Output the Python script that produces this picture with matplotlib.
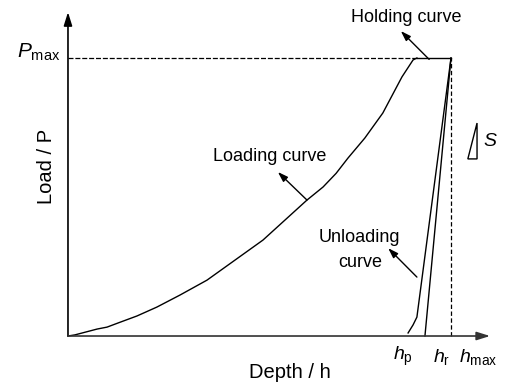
import numpy as np
import matplotlib.pyplot as plt
from matplotlib.patches import Polygon

plt.rcParams['font.family'] = ['Liberation Sans', 'DejaVu Sans']
plt.rcParams['mathtext.fontset'] = 'custom'
plt.rcParams['mathtext.rm'] = 'Liberation Sans'
plt.rcParams['mathtext.it'] = 'Liberation Sans:italic'

# normalised depth (h / hmax) and load (P / Pmax)
load_h = [0, 0.018, 0.076, 0.102, 0.131, 0.180, 0.232, 0.292, 0.363,
          0.509, 0.624, 0.666, 0.700, 0.731, 0.775, 0.822, 0.872, 0.901, 0.911]
load_p = [0, 0.004, 0.025, 0.032, 0.047, 0.072, 0.104, 0.147, 0.201,
          0.345, 0.489, 0.536, 0.585, 0.640, 0.712, 0.802, 0.932, 0.993, 1.0]
hold_h = [0.911, 1.0]
hold_p = [1.0, 1.0]
unload1_h = [1.0, 0.911, 0.901, 0.888]
unload1_p = [1.0, 0.068, 0.040, 0.011]
unload2_h = [1.0, 0.932]
unload2_p = [1.0, 0.0]
h_p, h_r, h_max = 0.888, 0.932, 1.0
p_max = 1.0

fig = plt.figure(figsize=(5.31, 3.91), dpi=100)
ax = fig.add_axes([0, 0, 1, 1])
ax.set_xlim(-0.1775, 1.2089)
ax.set_ylim(-0.1978, 1.2086)
ax.axis('off')

# axes with arrows
arrow = dict(arrowstyle='-|>,head_length=0.8,head_width=0.25', color='black', lw=1.2,
             shrinkA=0, shrinkB=0)
ax.annotate('', xy=(0, 1.165), xytext=(0, 0), arrowprops=arrow)
ax.annotate('', xy=(1.102, 0), xytext=(0, 0), arrowprops=dict(arrow, color='#333333'))

# reference lines
ax.plot([0, hold_h[0]], [p_max, p_max], color='black', lw=0.9, ls=(0, (4, 1.5)))
ax.plot([h_max, h_max], [0, p_max], color='black', lw=0.9, ls=(0, (3.5, 2)))

# curves
ax.plot(load_h, load_p, color='black', lw=1.0)
ax.plot(hold_h, hold_p, color='black', lw=1.0)
ax.plot(unload1_h, unload1_p, color='black', lw=1.0)
ax.plot(unload2_h, unload2_p, color='black', lw=1.0)

# annotations
small_arrow = dict(arrowstyle='-|>,head_length=0.6,head_width=0.2', color='black', lw=1.0,
                   shrinkA=0, shrinkB=0)
ax.annotate('', xy=(0.548, 0.590), xytext=(0.624, 0.489), arrowprops=small_arrow)
ax.text(0.527, 0.644, 'Loading curve', fontsize=13, ha='center', va='center')

ax.annotate('', xy=(0.869, 1.097), xytext=(0.943, 0.995), arrowprops=small_arrow)
ax.text(0.883, 1.145, 'Holding curve', fontsize=13, ha='center', va='center')

ax.annotate('', xy=(0.836, 0.316), xytext=(0.911, 0.212), arrowprops=small_arrow)
ax.text(0.762, 0.356, 'Unloading', fontsize=13, ha='center', va='center')
ax.text(0.762, 0.263, 'curve', fontsize=13, ha='center', va='center')

# stiffness triangle
tri = Polygon([[1.044, 0.637], [1.068, 0.637], [1.068, 0.766]], closed=True,
              fill=False, edgecolor='black', lw=1.0)
ax.add_patch(tri)
ax.text(1.102, 0.70, '$S$', fontsize=14, ha='center', va='center')

# axis labels and marks
ax.text(-0.021, 1.02, r'$P_{\mathrm{max}}$', fontsize=15, ha='right', va='center')
ax.text(h_p - 0.040, -0.075, r'$h_{\mathrm{p}}$', fontsize=14, ha='left', va='center')
ax.text(h_r + 0.020, -0.075, r'$h_{\mathrm{r}}$', fontsize=14, ha='left', va='center')
ax.text(h_max + 0.022, -0.075, r'$h_{\mathrm{max}}$', fontsize=14, ha='left', va='center')

ax.text(-0.055, 0.61, 'Load / P', fontsize=14.5, rotation=90, ha='center', va='center')
ax.text(0.58, -0.133, 'Depth / h', fontsize=14.5, ha='center', va='center')

fig.savefig('out.png', dpi=100)
